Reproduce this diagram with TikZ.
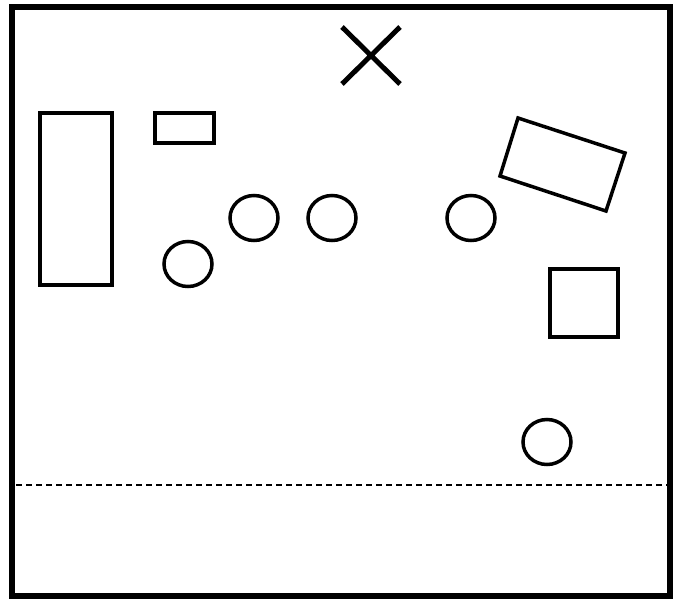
\documentclass[tikz,border=0pt]{standalone}
\begin{document}
\begin{tikzpicture}[x=1pt,y=-1pt,
  outline/.style={draw=black,line width=3.5pt},
  ring/.style={draw=black,line width=3.5pt}]
\useasboundingbox (0,0) rectangle (681,598);
\draw[line width=5.5pt] (12,7) rectangle (670,596);
\draw[line width=5pt] (342,27) -- (400,84) (342,84) -- (400,27);
\draw[outline] (40,113) rectangle (112,285);
\draw[outline] (155,113) rectangle (214,143);
\draw[outline] (518,118) -- (625,153) -- (606,211) -- (500,176) -- cycle;
\draw[outline] (550,269) rectangle (618,337);
\draw[ring] (254,218) ellipse [x radius=24,y radius=22.5];
\draw[ring] (332,218) ellipse [x radius=24,y radius=22.5];
\draw[ring] (471,218) ellipse [x radius=24,y radius=22.5];
\draw[ring] (188,264) ellipse [x radius=24,y radius=22.5];
\draw[ring] (547,442) ellipse [x radius=24,y radius=22.5];
\draw[line width=1.5pt,dash pattern=on 6pt off 4pt] (16,485) -- (668,485);
\end{tikzpicture}
\end{document}
